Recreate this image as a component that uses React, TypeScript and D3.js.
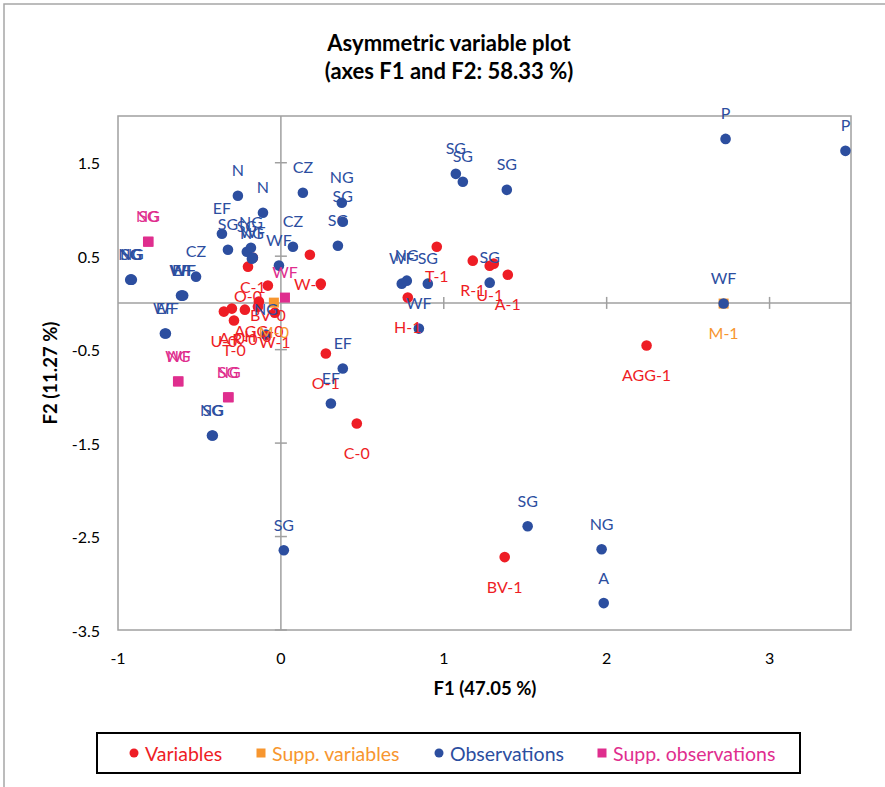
import React from "react";
import * as d3 from "d3";

// ---------- data ----------
const varLabels = ["C-1", "O-0", "BV-0", "AGG-0", "H-0", "U-0", "A-0", "R-0", "T-0", "W-1", "W-0", "", "T-1", "R-1", "U-1", "", "A-1", "H-1", "O-1", "C-0", "BV-1", "AGG-1"];
const varX = [-0.172, -0.202, -0.08, -0.135, -0.141, -0.35, -0.301, -0.221, -0.288, -0.037, 0.178, 0.245, 0.957, 1.178, 1.282, 1.307, 1.393, 0.779, 0.276, 0.466, 1.374, 2.245];
const varY = [0.484, 0.388, 0.185, 0.014, -0.04, -0.093, -0.061, -0.072, -0.189, -0.104, 0.516, 0.206, 0.601, 0.452, 0.398, 0.42, 0.302, 0.057, -0.541, -1.29, -2.72, -0.456];

const suppVarLabels = ["M-0", "M-1"];
const suppVarX = [-0.043, 2.718];
const suppVarY = [0.003, -0.007];

const obsLabels = ["P", "P", "WF", "SG", "NG", "A", "SG", "EF", "EF", "WF", "WF", "NG", "SG", "SG", "SG", "SG", "SG", "CZ", "NG", "SG", "SG", "CZ", "WF", "N", "N", "EF", "SG", "SG", "NG", "WF", "NG", "CZ", "WF", "WF", "EF", "SG", "NG", "NG", "WF", "EF", "NG", "SG", "NG"];
const obsX = [2.73, 3.466, 2.718, 1.515, 1.969, 1.982, 0.018, 0.38, 0.307, 0.847, 0.742, 0.773, 0.902, 1.282, 1.074, 1.117, 1.387, 0.135, 0.374, 0.38, 0.35, 0.074, -0.012, -0.264, -0.11, -0.362, -0.325, -0.209, -0.184, -0.172, -0.178, -0.521, -0.607, -0.6, -0.613, -0.92, -0.915, -0.925, -0.706, -0.712, -0.423, -0.418, -0.092];
const obsY = [1.755, 1.627, -0.007, -2.39, -2.636, -3.212, -2.646, -0.702, -1.076, -0.275, 0.206, 0.238, 0.206, 0.217, 1.381, 1.296, 1.21, 1.178, 1.072, 0.869, 0.612, 0.601, 0.399, 1.146, 0.965, 0.74, 0.569, 0.548, 0.591, 0.484, 0.473, 0.281, 0.078, 0.078, 0.078, 0.249, 0.249, 0.249, -0.328, -0.328, -1.418, -1.418, -0.339];

const suppObsLabels = ["NG", "SG", "WF", "WF", "NG", "SG", "NG"];
const suppObsX = [-0.816, -0.812, 0.025, -0.632, -0.628, -0.325, -0.32];
const suppObsY = [0.655, 0.655, 0.057, -0.84, -0.84, -1.01, -1.01];

const xTicks = [-1, 0, 1, 2, 3];
const yTicks = [1.5, 0.5, -0.5, -1.5, -2.5, -3.5];

const titleLines = ["Asymmetric variable plot", "(axes F1 and F2: 58.33 %)"];
const xTitle = "F1 (47.05 %)";
const yTitle = "F2 (11.27 %)";
const legendItems = ["Variables", "Supp. variables", "Observations", "Supp. observations"];

// ---------- style ----------
const RED = "#EE1D25";
const ORANGE = "#F7962F";
const BLUE = "#2C4E9F";
const PINK = "#DF2E8E";
const AXIS = "#A0A0A0";
const FONT = "Lato, 'Open Sans', sans-serif";

const W = 885;
const H = 787;
const L = 118, R = 851, T = 116, B = 630;

export default function App() {
  const x = d3.scaleLinear().domain([-1, 3.5]).range([L, R]);
  const y = d3.scaleLinear().domain([-3.5, 2]).range([B, T]);

  const series = [
    { labels: varLabels, xs: varX, ys: varY, color: RED, shape: "circle", dy: 29 },
    { labels: suppVarLabels, xs: suppVarX, ys: suppVarY, color: ORANGE, shape: "square", dy: 29 },
    { labels: obsLabels, xs: obsX, ys: obsY, color: BLUE, shape: "circle", dy: -26 },
    { labels: suppObsLabels, xs: suppObsX, ys: suppObsY, color: PINK, shape: "square", dy: -26 },
  ];

  const legendX = [134, 261, 439, 602];
  const legendColors = [RED, ORANGE, BLUE, PINK];
  const legendShapes = ["circle", "square", "circle", "square"];

  return (
    <svg width={W} height={H} style={{ position: "absolute", left: 0, top: 0, background: "#fff" }} fontFamily={FONT}>
      <rect x={4} y={4} width={1000} height={1000} fill="#fff" stroke="#A6A6A6" strokeWidth={1.5} />
      {titleLines.map((t, i) => (
        <text key={i} x={449} y={42 + i * 28} textAnchor="middle" dominantBaseline="central" fontWeight="bold" fontSize={22} fill="#000">{t}</text>
      ))}
      {/* plot frame */}
      <rect x={L} y={T} width={R - L} height={B - T} fill="none" stroke={AXIS} strokeWidth={1.5} />
      {/* zero lines */}
      <line x1={x(0)} x2={x(0)} y1={T} y2={B} stroke={AXIS} strokeWidth={1.5} />
      <line x1={L} x2={R} y1={y(0)} y2={y(0)} stroke={AXIS} strokeWidth={1.5} />
      {yTicks.map((t) => (
        <line key={"yt" + t} x1={x(0) - 6} x2={x(0) + 6} y1={y(t)} y2={y(t)} stroke={AXIS} strokeWidth={1.5} />
      ))}
      {xTicks.filter((t) => t > 0).map((t) => (
        <line key={"xt" + t} x1={x(t)} x2={x(t)} y1={y(0) - 6} y2={y(0) + 6} stroke={AXIS} strokeWidth={1.5} />
      ))}
      {yTicks.map((t) => (
        <text key={"yl" + t} x={100} y={y(t)} textAnchor="end" dominantBaseline="central" fontSize={16} fill="#000">{t}</text>
      ))}
      {xTicks.map((t) => (
        <text key={"xl" + t} x={x(t)} y={657} textAnchor="middle" dominantBaseline="central" fontSize={16} fill="#000">{t}</text>
      ))}
      <text x={485} y={688} textAnchor="middle" dominantBaseline="central" fontWeight="bold" fontSize={18.5} fill="#000">{xTitle}</text>
      <text transform={`translate(50,${(T + B) / 2}) rotate(-90)`} textAnchor="middle" dominantBaseline="central" fontWeight="bold" fontSize={18.5} fill="#000">{yTitle}</text>

      {/* markers */}
      {series.map((s, si) =>
        s.xs.map((v, i) =>
          s.shape === "circle" ? (
            <circle key={`m${si}-${i}`} cx={x(v)} cy={y(s.ys[i])} r={5.3} fill={s.color} />
          ) : (
            <rect key={`m${si}-${i}`} x={x(v) - 5} y={y(s.ys[i]) - 5} width={10} height={10} fill={s.color} />
          )
        )
      )}
      {/* labels */}
      {series.map((s, si) =>
        s.xs.map((v, i) =>
          s.labels[i] ? (
            <text key={`l${si}-${i}`} x={x(v)} y={y(s.ys[i]) + s.dy} textAnchor="middle" dominantBaseline="central" fontSize={16} fill={s.color}>{s.labels[i]}</text>
          ) : null
        )
      )}

      {/* legend */}
      <rect x={97} y={733} width={703} height={40} fill="#fff" stroke="#000" strokeWidth={2} />
      {legendItems.map((t, i) => (
        <g key={"lg" + i}>
          {legendShapes[i] === "circle" ? (
            <circle cx={legendX[i]} cy={753} r={4.5} fill={legendColors[i]} />
          ) : (
            <rect x={legendX[i] - 4.5} y={748.5} width={9} height={9} fill={legendColors[i]} />
          )}
          <text x={legendX[i] + 11} y={753} dominantBaseline="central" fontSize={19.5} fill={legendColors[i]}>{t}</text>
        </g>
      ))}
    </svg>
  );
}
